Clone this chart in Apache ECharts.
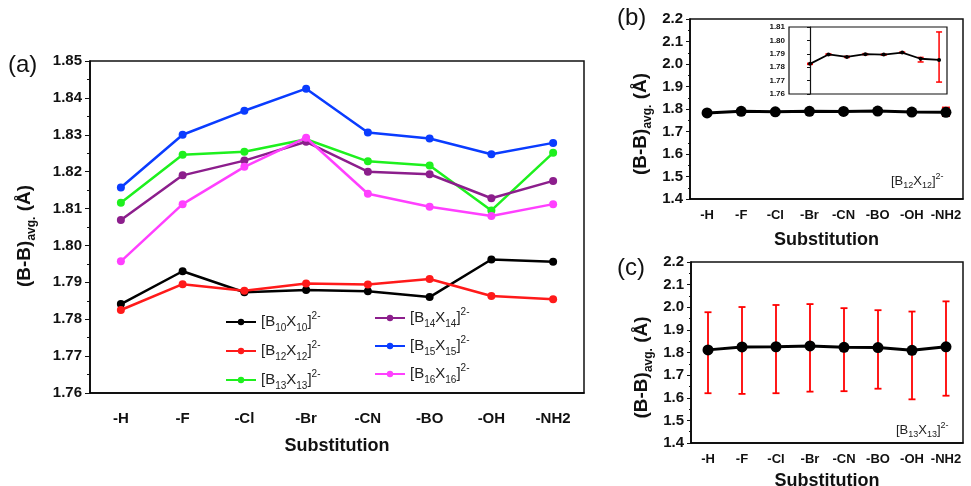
<!DOCTYPE html>
<html><head><meta charset="utf-8">
<script src="https://cdn.jsdelivr.net/npm/echarts@6/dist/echarts.min.js"></script>
<style>html,body{margin:0;padding:0;background:#fff}#c{width:971px;height:486px}</style>
</head><body><div id="c"></div>
<script>
const categories = ['-H','-F','-Cl','-Br','-CN','-BO','-OH','-NH2'];
const yTicksA = [1.76, 1.85, 0.01];
const yTicksBC = [1.4, 2.2, 0.1];
const yTicksInset = [1.76, 1.81, 0.01];
const b10 = [1.7841, 1.7930, 1.7873, 1.7879, 1.7876, 1.7860, 1.7962, 1.7956];
const b12 = [1.7825, 1.7895, 1.7877, 1.7897, 1.7894, 1.7909, 1.7863, 1.7854];
const b13 = [1.8116, 1.8246, 1.8254, 1.8288, 1.8228, 1.8217, 1.8095, 1.8251];
const b14 = [1.8069, 1.8190, 1.8230, 1.8281, 1.8200, 1.8193, 1.8128, 1.8175];
const b15 = [1.8157, 1.8300, 1.8365, 1.8425, 1.8306, 1.8290, 1.8247, 1.8278];
const b16 = [1.7957, 1.8112, 1.8213, 1.8292, 1.8140, 1.8105, 1.8080, 1.8112];
const b12Low  = [1.7821, 1.7891, 1.7873, 1.7893, 1.7890, 1.7905, 1.7839, 1.7689];
const b12High = [1.7829, 1.7899, 1.7881, 1.7901, 1.7898, 1.7913, 1.7873, 1.8063];
const b13Low  = [1.620, 1.617, 1.620, 1.627, 1.629, 1.640, 1.593, 1.609];
const b13High = [1.978, 2.001, 2.010, 2.014, 1.996, 1.987, 1.981, 2.026];
const seriesNames = ['[B10X10]2-','[B12X12]2-','[B13X13]2-','[B14X14]2-','[B15X15]2-','[B16X16]2-'];

const FONT = "'Liberation Sans', Arial, sans-serif";
const colors = ['#000000','#ff1a1a','#1ef01e','#8c1e8c','#0a3cff','#ff40ff'];

function richName(n){
  return n.replace(/\[B(\d+)X(\d+)\]2-/, '{m|[B}{s|$1}{m|X}{s|$2}{m|]}{p|2-}');
}
const legendRich = {
  m:{fontSize:15, fontFamily:FONT, color:'#222', lineHeight:22},
  s:{fontSize:10, fontFamily:FONT, color:'#222', lineHeight:10, verticalAlign:'bottom'},
  p:{fontSize:10, fontFamily:FONT, color:'#222', lineHeight:10, verticalAlign:'top'}
};
const yNameRich = (fs, sfs) => ({
  m:{fontSize:fs, fontWeight:'bold', fontFamily:FONT, color:'#111', lineHeight:fs+8},
  s:{fontSize:sfs, fontWeight:'bold', fontFamily:FONT, color:'#111', lineHeight:sfs, verticalAlign:'bottom'}
});
const yName = '{m|(B-B)}{s|avg.}{m| (Å)}';

function errRender(capHalf, lw){
  return function(params, api){
    const x = api.value(0);
    const lo = api.coord([x, api.value(1)]);
    const hi = api.coord([x, api.value(2)]);
    const st = {stroke:'#ff0000', lineWidth:lw};
    return {type:'group', children:[
      {type:'line', shape:{x1:lo[0],y1:lo[1],x2:hi[0],y2:hi[1]}, style:st},
      {type:'line', shape:{x1:lo[0]-capHalf,y1:lo[1],x2:lo[0]+capHalf,y2:lo[1]}, style:st},
      {type:'line', shape:{x1:hi[0]-capHalf,y1:hi[1],x2:hi[0]+capHalf,y2:hi[1]}, style:st}
    ]};
  };
}

const blackLine = {color:'#000', width:1.5};
const lbl = (fs, dec) => ({fontSize:fs, fontWeight:'bold', fontFamily:FONT, color:'#111', formatter:v=>(+v).toFixed(dec)});
const xLabel = fs => ({fontSize:fs, fontWeight:'bold', fontFamily:FONT, color:'#111', interval:0});
const xName = {fontSize:18, fontWeight:'bold', fontFamily:FONT, color:'#111'};

const option = {
  animation:false,
  backgroundColor:'#fff',
  grid:[
    {left:90, top:61, width:494, height:332, show:true, borderColor:'#111', borderWidth:1.5, outerBoundsMode:'none', containLabel:false},
    {left:690, top:19, width:273, height:180, show:true, borderColor:'#111', borderWidth:1.5, outerBoundsMode:'none', containLabel:false},
    {left:789, top:27, width:158, height:67, show:true, borderColor:'#111', borderWidth:1.2, backgroundColor:'#fff', outerBoundsMode:'none', containLabel:false},
    {left:691, top:262, width:272, height:181, show:true, borderColor:'#111', borderWidth:1.5, outerBoundsMode:'none', containLabel:false}
  ],
  xAxis:[
    {gridIndex:0, type:'category', data:categories, boundaryGap:true, axisLine:{lineStyle:blackLine}, axisTick:{show:false},
     axisLabel:Object.assign(xLabel(15),{margin:18}), name:'Substitution', nameLocation:'middle', nameGap:44, nameTextStyle:xName},
    {gridIndex:1, type:'category', data:categories, boundaryGap:true, axisLine:{lineStyle:blackLine}, axisTick:{show:false},
     axisLabel:Object.assign(xLabel(13),{margin:10}), name:'Substitution', nameLocation:'middle', nameGap:32, nameTextStyle:xName},
    {gridIndex:2, type:'value', min:-1.14, max:7.43, show:false},
    {gridIndex:3, type:'category', data:categories, boundaryGap:true, axisLine:{lineStyle:blackLine}, axisTick:{show:false},
     axisLabel:Object.assign(xLabel(13),{margin:10}), name:'Substitution', nameLocation:'middle', nameGap:29, nameTextStyle:xName}
  ],
  yAxis:[
    {gridIndex:0, type:'value', min:yTicksA[0], max:yTicksA[1], interval:yTicksA[2], splitLine:{show:false},
     axisLine:{show:true, lineStyle:blackLine}, axisTick:{show:true, length:5, lineStyle:{color:'#111'}},
     minorTick:{show:true, splitNumber:2, length:3, lineStyle:{color:'#111'}},
     axisLabel:Object.assign(lbl(15,2),{margin:8}),
     name:yName, nameLocation:'middle', nameGap:52, nameRotate:90, nameTextStyle:{rich:yNameRich(19,12), padding:[0,18,0,0]}},
    {gridIndex:1, type:'value', min:yTicksBC[0], max:yTicksBC[1], interval:yTicksBC[2], splitLine:{show:false},
     axisLine:{show:true, lineStyle:blackLine}, axisTick:{show:true, length:4, lineStyle:{color:'#111'}},
     minorTick:{show:true, splitNumber:2, length:2, lineStyle:{color:'#111'}},
     axisLabel:Object.assign(lbl(15,1),{margin:7}),
     name:yName, nameLocation:'middle', nameGap:36, nameRotate:90, nameTextStyle:{rich:yNameRich(19,12), padding:[0,30,0,0]}},
    {gridIndex:2, type:'value', min:yTicksInset[0], max:yTicksInset[1], interval:yTicksInset[2], splitLine:{show:false},
     axisLine:{show:true, lineStyle:{color:'#111', width:1.2}}, axisTick:{show:true, length:3, lineStyle:{color:'#111'}},
     axisLabel:Object.assign(lbl(8,2),{margin:4})},
    {gridIndex:3, type:'value', min:yTicksBC[0], max:yTicksBC[1], interval:yTicksBC[2], splitLine:{show:false},
     axisLine:{show:true, lineStyle:blackLine}, axisTick:{show:true, length:4, lineStyle:{color:'#111'}},
     minorTick:{show:true, splitNumber:2, length:2, lineStyle:{color:'#111'}},
     axisLabel:Object.assign(lbl(15,1),{margin:7}),
     name:yName, nameLocation:'middle', nameGap:36, nameRotate:90, nameTextStyle:{rich:yNameRich(19,12), padding:[0,30,0,0]}}
  ],
  legend:[
    {data:seriesNames.slice(0,3), orient:'vertical', left:220, top:306, itemGap:7, itemWidth:30, itemHeight:8,
     formatter:richName, textStyle:{rich:legendRich}},
    {data:seriesNames.slice(3,6), orient:'vertical', left:369, top:302, itemGap:6, itemWidth:30, itemHeight:8,
     formatter:richName, textStyle:{rich:legendRich}}
  ],
  graphic:[
    {type:'text', left:8, top:53, style:{text:'(a)', fontSize:24, fontFamily:FONT, fill:'#111'}},
    {type:'text', left:617, top:6, style:{text:'(b)', fontSize:24, fontFamily:FONT, fill:'#111'}},
    {type:'text', left:617, top:256, style:{text:'(c)', fontSize:24, fontFamily:FONT, fill:'#111'}},
    {type:'text', left:891, top:172, style:{rich:{m:{fontSize:13,fontFamily:FONT,fill:'#222',lineHeight:18},s:{fontSize:9,fontFamily:FONT,fill:'#222',lineHeight:9,verticalAlign:'bottom'},p:{fontSize:9,fontFamily:FONT,fill:'#222',lineHeight:9,verticalAlign:'top'}},
      text:'{m|[B}{s|12}{m|X}{s|12}{m|]}{p|2-}'}},
    {type:'text', left:896, top:421, style:{rich:{m:{fontSize:13,fontFamily:FONT,fill:'#222',lineHeight:18},s:{fontSize:9,fontFamily:FONT,fill:'#222',lineHeight:9,verticalAlign:'bottom'},p:{fontSize:9,fontFamily:FONT,fill:'#222',lineHeight:9,verticalAlign:'top'}},
      text:'{m|[B}{s|13}{m|X}{s|13}{m|]}{p|2-}'}}
  ],
  series:[]
};

const allA = [b10,b12,b13,b14,b15,b16];
allA.forEach((arr,i)=>{
  option.series.push({type:'line', name:seriesNames[i], xAxisIndex:0, yAxisIndex:0, data:arr,
    symbol:'circle', symbolSize:8, color:colors[i], lineStyle:{width:2.5, color:colors[i]}, itemStyle:{color:colors[i]}, z:3+i});
});
// (b)
option.series.push({type:'custom', xAxisIndex:1, yAxisIndex:1, renderItem:errRender(4,2),
  encode:{x:0,y:[1,2]}, data:categories.map((c,i)=>[i,b12Low[i],b12High[i]]), z:2});
option.series.push({type:'line', xAxisIndex:1, yAxisIndex:1, data:b12, symbol:'circle', symbolSize:11,
  lineStyle:{width:3,color:'#000'}, itemStyle:{color:'#000'}, z:3});
// inset
option.series.push({type:'custom', xAxisIndex:2, yAxisIndex:2, renderItem:errRender(3,1.5),
  encode:{x:0,y:[1,2]}, data:categories.map((c,i)=>[i,b12Low[i],b12High[i]]), z:4});
option.series.push({type:'line', xAxisIndex:2, yAxisIndex:2, data:b12.map((v,i)=>[i,v]), symbol:'circle', symbolSize:4,
  lineStyle:{width:1.8,color:'#000'}, itemStyle:{color:'#000'}, z:5});
// (c)
option.series.push({type:'custom', xAxisIndex:3, yAxisIndex:3, renderItem:errRender(3.5,1.8),
  encode:{x:0,y:[1,2]}, data:categories.map((c,i)=>[i,b13Low[i],b13High[i]]), z:2});
option.series.push({type:'line', xAxisIndex:3, yAxisIndex:3, data:b13, symbol:'circle', symbolSize:11,
  lineStyle:{width:3,color:'#000'}, itemStyle:{color:'#000'}, z:3});

const chart = echarts.init(document.getElementById('c'), null, {renderer:'canvas'});
chart.setOption(option);
</script></body></html>
